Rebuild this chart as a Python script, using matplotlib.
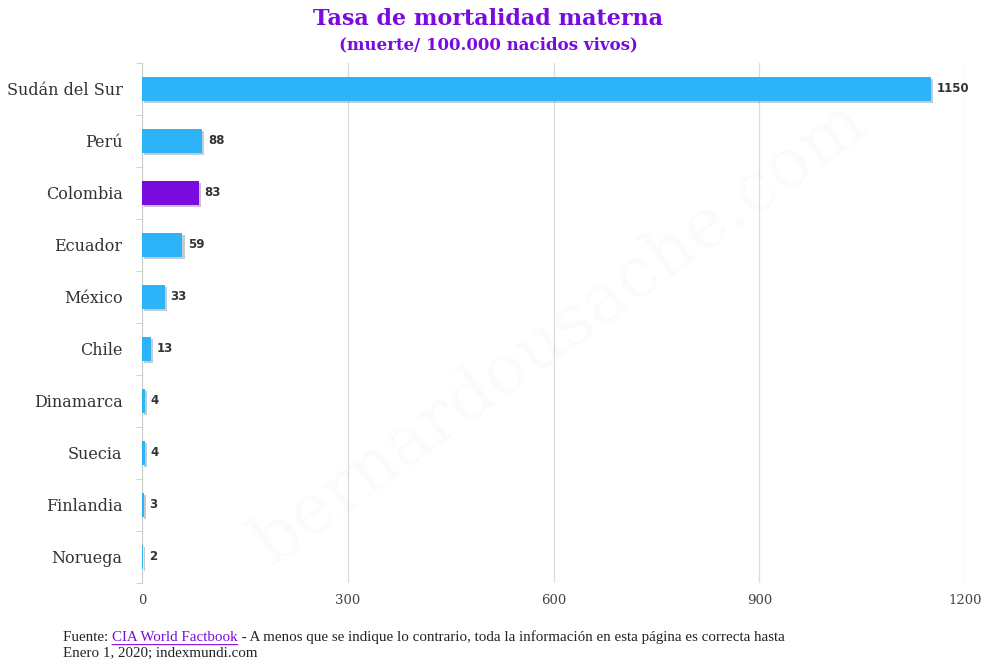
import matplotlib
matplotlib.use("Agg")
import matplotlib.pyplot as plt
import matplotlib.patheffects as pe

# datos: tasa de mortalidad materna (muertes / 100.000 nacidos vivos)
paises = ["Sudán del Sur", "Perú", "Colombia", "Ecuador", "México",
          "Chile", "Dinamarca", "Suecia", "Finlandia", "Noruega"]
tasas = [1150, 88, 83, 59, 33, 13, 4, 4, 3, 2]
ticks_x = [0, 300, 600, 900, 1200]

azul = "#2DB3FA"
morado = "#7A0BDF"
colores = [morado if p == "Colombia" else azul for p in paises]

fig = plt.figure(figsize=(10, 6.67), dpi=100)
ax = fig.add_axes([0.142, 0.126, 0.823, 0.78])

y = list(range(len(paises)))
barras = ax.barh(y, tasas, height=0.46, color=colores, zorder=3)
for b in barras:
    b.set_path_effects([pe.SimplePatchShadow(offset=(1.5, -1.5), alpha=0.25), pe.Normal()])

for yi, v in zip(y, tasas):
    ax.text(v + 8, yi, str(v), va="center", ha="left", fontsize=8.5,
            fontweight="bold", color="#333333", zorder=4)

ax.set_ylim(len(paises) - 0.5, -0.5)
ax.set_xlim(0, 1200)
ax.set_yticks(y)
ax.set_yticklabels(paises, fontsize=11.5, family="DejaVu Serif", color="#333333")
ax.set_yticks([i + 0.5 for i in range(-1, len(paises))], minor=True)
ax.tick_params(axis="y", which="major", length=0, pad=14)
ax.tick_params(axis="y", which="minor", length=4, color="#cccccc")
ax.set_xticks(ticks_x)
ax.set_xticklabels([str(t) for t in ticks_x], family="DejaVu Serif", fontsize=9.5, color="#444444")
ax.tick_params(axis="x", length=0, pad=8)

ax.grid(axis="x", color="#dddddd", linewidth=0.9, zorder=0)
for s in ["top", "right", "bottom"]:
    ax.spines[s].set_visible(False)
ax.spines["left"].set_color("#cccccc")

# marca de agua
fig.text(0.56, 0.5, "bernardousache.com", rotation=36, fontsize=50,
         family="DejaVu Serif", color="#000000", alpha=0.02, ha="center", va="center")

fig.text(0.488, 0.972, "Tasa de mortalidad materna", ha="center", va="center",
         fontsize=16, fontweight="bold", family="DejaVu Serif", color=morado)
fig.text(0.488, 0.932, "(muerte/ 100.000 nacidos vivos)", ha="center", va="center",
         fontsize=12, fontweight="bold", family="DejaVu Serif", color=morado)

# pie de página con enlace subrayado
pie = dict(fontsize=10.8, family="Liberation Serif", color="#222222")
t1 = fig.text(0.063, 0.039, "Fuente: ", **pie)
t2 = fig.add_artist(plt.Annotation("CIA World Factbook", xy=(1, 0), xycoords=t1,
                                   va="bottom", **{**pie, "color": morado}))
fig.add_artist(plt.Annotation(
    " - A menos que se indique lo contrario, toda la información en esta página es correcta hasta",
    xy=(1, 0), xycoords=t2, va="bottom", **pie))
fig.text(0.063, 0.015, "Enero 1, 2020; indexmundi.com", **pie)
fig.add_artist(plt.Annotation("", xy=(1, -0.05), xycoords=t2, xytext=(0, -0.05),
                              textcoords=t2,
                              arrowprops=dict(arrowstyle="-", color=morado, lw=0.8,
                                              shrinkA=0, shrinkB=0)))

fig.savefig("out.png", dpi=100)
